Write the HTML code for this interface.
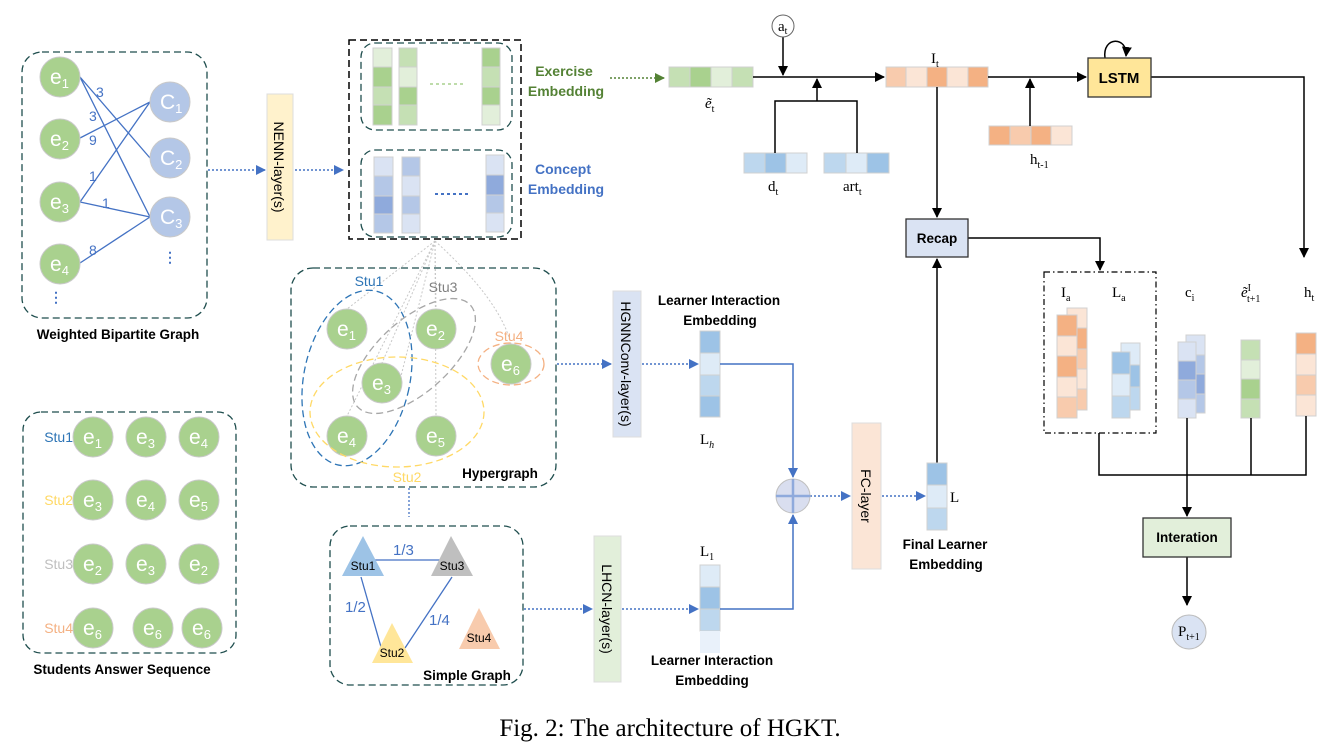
<!DOCTYPE html>
<html><head><meta charset="utf-8"><style>
html,body{margin:0;padding:0;background:#fff;}
svg{display:block;}
.s{font-family:"Liberation Sans",sans-serif;}
.b{font-family:"Liberation Sans",sans-serif;font-weight:bold;font-size:13.5px;fill:#000;}
.r{font-family:"Liberation Serif",serif;font-size:15px;fill:#000;}
.et{font-family:"Liberation Sans",sans-serif;font-size:21px;fill:#fff;}
</style></head><body>
<svg width="1340" height="753" viewBox="0 0 1340 753" xmlns="http://www.w3.org/2000/svg">
<defs>
<marker id="ab" markerWidth="10" markerHeight="10" refX="9" refY="5" orient="auto" markerUnits="userSpaceOnUse"><path d="M0,0 L10,5 L0,10 z" fill="#000"/></marker>
<marker id="abl" markerWidth="10" markerHeight="10" refX="9" refY="5" orient="auto" markerUnits="userSpaceOnUse"><path d="M0,0 L10,5 L0,10 z" fill="#4472c4"/></marker>
<marker id="agr" markerWidth="10" markerHeight="10" refX="9" refY="5" orient="auto" markerUnits="userSpaceOnUse"><path d="M0,0 L10,5 L0,10 z" fill="#548235"/></marker>
</defs>

<!-- Weighted bipartite graph -->
<rect x="22" y="52" width="185" height="266" rx="20" fill="none" stroke="#1f4e4e" stroke-width="1.3" stroke-dasharray="7,4"/>
<g stroke="#4472c4" stroke-width="1.3">
<line x1="80" y1="77" x2="150" y2="158"/><line x1="80" y1="77" x2="150" y2="217"/>
<line x1="80" y1="138" x2="150" y2="102"/><line x1="80" y1="202" x2="150" y2="102"/>
<line x1="80" y1="202" x2="150" y2="217"/><line x1="80" y1="263" x2="150" y2="217"/>
</g>
<g fill="#a9d18e" stroke="#c9c9c9"><circle cx="60" cy="77" r="20"/><circle cx="60" cy="139" r="20"/><circle cx="60" cy="202" r="20"/><circle cx="60" cy="264" r="20"/></g>
<g fill="#b4c7e7" stroke="#c9c9c9"><circle cx="170" cy="102" r="20"/><circle cx="170" cy="158" r="20"/><circle cx="170" cy="217" r="20"/></g>
<g class="et"><text x="50" y="84">e<tspan font-size="13" dy="4">1</tspan></text><text x="50" y="146">e<tspan font-size="13" dy="4">2</tspan></text><text x="50" y="209">e<tspan font-size="13" dy="4">3</tspan></text><text x="50" y="271">e<tspan font-size="13" dy="4">4</tspan></text>
<text x="160" y="109">C<tspan font-size="13" dy="4">1</tspan></text><text x="160" y="165">C<tspan font-size="13" dy="4">2</tspan></text><text x="160" y="224">C<tspan font-size="13" dy="4">3</tspan></text></g>
<g class="s" fill="#4472c4" font-size="14"><text x="96" y="97">3</text><text x="89" y="121">3</text><text x="89" y="145">9</text><text x="89" y="181">1</text><text x="102" y="208">1</text><text x="89" y="255">8</text>
<text x="56" y="302" font-weight="bold" text-anchor="middle">⋮</text><text x="170" y="262" font-weight="bold" text-anchor="middle">⋮</text></g>
<text class="b" x="118" y="339" text-anchor="middle">Weighted Bipartite Graph</text>

<!-- NENN -->
<line x1="208" y1="170" x2="265" y2="170" stroke="#4472c4" stroke-width="1.5" stroke-dasharray="2,2" marker-end="url(#abl)"/>
<rect x="267" y="94" width="26" height="146" fill="#fff2cc" stroke="#ddd"/>
<text class="s" font-size="14" transform="translate(274,167) rotate(90)" text-anchor="middle">NENN-layer(s)</text>
<line x1="295" y1="170" x2="343" y2="170" stroke="#4472c4" stroke-width="1.5" stroke-dasharray="2,2" marker-end="url(#abl)"/>

<!-- Embedding boxes -->
<rect x="349" y="40" width="172" height="199" fill="none" stroke="#000" stroke-width="1.5" stroke-dasharray="7,4"/>
<rect x="361" y="43" width="151" height="87" rx="14" fill="none" stroke="#1f4e4e" stroke-width="1.3" stroke-dasharray="7,4"/>
<rect x="361" y="150" width="151" height="87" rx="14" fill="none" stroke="#1f4e4e" stroke-width="1.3" stroke-dasharray="7,4"/>
<g stroke="#d0d0d0">
<rect x="373" y="48" width="19" height="19" fill="#e2efda"/><rect x="373" y="67" width="19" height="20" fill="#a9d18e"/><rect x="373" y="87" width="19" height="18" fill="#c5e0b4"/><rect x="373" y="105" width="19" height="20" fill="#a9d18e"/>
<rect x="399" y="48" width="18" height="19" fill="#c5e0b4"/><rect x="399" y="67" width="18" height="20" fill="#e2efda"/><rect x="399" y="87" width="18" height="18" fill="#a9d18e"/><rect x="399" y="105" width="18" height="20" fill="#c5e0b4"/>
<rect x="482" y="48" width="18" height="19" fill="#a9d18e"/><rect x="482" y="67" width="18" height="20" fill="#c5e0b4"/><rect x="482" y="87" width="18" height="18" fill="#a9d18e"/><rect x="482" y="105" width="18" height="20" fill="#e2efda"/>
<rect x="374" y="157" width="19" height="19" fill="#dae3f3"/><rect x="374" y="176" width="19" height="20" fill="#b4c7e7"/><rect x="374" y="196" width="19" height="18" fill="#8faadc"/><rect x="374" y="214" width="19" height="19" fill="#b4c7e7"/>
<rect x="402" y="157" width="18" height="19" fill="#b4c7e7"/><rect x="402" y="176" width="18" height="20" fill="#dae3f3"/><rect x="402" y="196" width="18" height="18" fill="#b4c7e7"/><rect x="402" y="214" width="18" height="19" fill="#dae3f3"/>
<rect x="486" y="155" width="18" height="20" fill="#dae3f3"/><rect x="486" y="175" width="18" height="20" fill="#8faadc"/><rect x="486" y="195" width="18" height="18" fill="#b4c7e7"/><rect x="486" y="213" width="18" height="19" fill="#dae3f3"/>
</g>
<line x1="430" y1="84" x2="465" y2="84" stroke="#a9d18e" stroke-width="1.5" stroke-dasharray="3,3"/>
<line x1="435" y1="194" x2="470" y2="194" stroke="#4472c4" stroke-width="2" stroke-dasharray="3,3"/>
<g class="s" font-weight="bold" font-size="14" text-anchor="middle"><text x="564" y="76" fill="#548235">Exercise</text><text x="566" y="96" fill="#548235">Embedding</text>
<text x="563" y="174" fill="#4472c4">Concept</text><text x="566" y="194" fill="#4472c4">Embedding</text></g>
<line x1="610" y1="78" x2="664" y2="78" stroke="#548235" stroke-width="1.5" stroke-dasharray="2,2" marker-end="url(#agr)"/>

<!-- top pipeline -->
<g stroke="#d0d0d0">
<rect x="669" y="67" width="21" height="20" fill="#c5e0b4"/><rect x="690" y="67" width="21" height="20" fill="#a9d18e"/><rect x="711" y="67" width="21" height="20" fill="#e2efda"/><rect x="732" y="67" width="21" height="20" fill="#c5e0b4"/>
<rect x="886" y="67" width="20" height="20" fill="#f8cbad"/><rect x="906" y="67" width="21" height="20" fill="#fbe5d6"/><rect x="927" y="67" width="20" height="20" fill="#f4b183"/><rect x="947" y="67" width="21" height="20" fill="#fbe5d6"/><rect x="968" y="67" width="20" height="20" fill="#f4b183"/>
<rect x="744" y="153" width="21" height="20" fill="#bdd7ee"/><rect x="765" y="153" width="21" height="20" fill="#9dc3e6"/><rect x="786" y="153" width="21" height="20" fill="#deebf7"/>
<rect x="824" y="153" width="22" height="20" fill="#bdd7ee"/><rect x="846" y="153" width="21" height="20" fill="#deebf7"/><rect x="867" y="153" width="22" height="20" fill="#9dc3e6"/>
<rect x="989" y="126" width="21" height="19" fill="#f4b183"/><rect x="1010" y="126" width="21" height="19" fill="#f8cbad"/><rect x="1031" y="126" width="20" height="19" fill="#f4b183"/><rect x="1051" y="126" width="21" height="19" fill="#fbe5d6"/>
</g>
<g stroke="#000" stroke-width="1.5" fill="none">
<line x1="753" y1="77" x2="884" y2="77" marker-end="url(#ab)"/>
<line x1="783" y1="37" x2="783" y2="75" marker-end="url(#ab)"/>
<polyline points="775,153 775,101 857,101 857,153"/>
<line x1="817" y1="101" x2="817" y2="79" marker-end="url(#ab)"/>
<line x1="988" y1="77" x2="1086" y2="77" marker-end="url(#ab)"/>
<line x1="1030" y1="126" x2="1030" y2="79" marker-end="url(#ab)"/>
<polyline points="1151,77 1304,77 1304,257" marker-end="url(#ab)"/>
<line x1="937" y1="87" x2="937" y2="217" marker-end="url(#ab)"/>
<polyline points="968,238 1100,238 1100,270" marker-end="url(#ab)"/>
<line x1="937" y1="463" x2="937" y2="259" marker-end="url(#ab)"/>
<path d="M1105,58 C1102,36 1128,36 1126,56" marker-end="url(#ab)"/>
</g>
<circle cx="783" cy="26" r="11" fill="#fff" stroke="#666"/>
<text class="r" x="778" y="31">a<tspan font-size="10" dy="3">t</tspan></text>
<rect x="1088" y="58" width="63" height="39" fill="#ffe699" stroke="#333" stroke-width="1.3"/>
<text class="s" x="1119" y="83" font-size="15" font-weight="bold" text-anchor="middle">LSTM</text>
<rect x="906" y="219" width="62" height="38" fill="#dae3f3" stroke="#333" stroke-width="1.3"/>
<text class="b" x="937" y="243" text-anchor="middle" font-size="13">Recap</text>
<g class="r"><text x="705" y="108"><tspan font-style="italic">ẽ</tspan><tspan font-size="10" dy="4">t</tspan></text>
<text x="931" y="63">I<tspan font-size="10" dy="4">t</tspan></text>
<text x="768" y="191">d<tspan font-size="10" dy="4">t</tspan></text>
<text x="843" y="191">art<tspan font-size="10" dy="4">t</tspan></text>
<text x="1030" y="164">h<tspan font-size="10" dy="4">t-1</tspan></text></g>

<!-- dash-dot box & vectors -->
<rect x="1044" y="272" width="112" height="161" fill="none" stroke="#000" stroke-width="1.2" stroke-dasharray="6,3,1.5,3"/>
<g class="r"><text x="1061" y="297">I<tspan font-size="10" dy="4">a</tspan></text><text x="1112" y="297">L<tspan font-size="10" dy="4">a</tspan></text>
<text x="1185" y="297">c<tspan font-size="10" dy="4">i</tspan></text>
<text x="1241" y="297"><tspan font-style="italic">ẽ</tspan><tspan font-size="10" dy="-6">I</tspan><tspan font-size="10" dx="-4" dy="11">t+1</tspan></text>
<text x="1304" y="297">h<tspan font-size="10" dy="4">t</tspan></text></g>
<g stroke="#d0d0d0">
<rect x="1067" y="308" width="20" height="20" fill="#fbe5d6"/><rect x="1067" y="328" width="20" height="21" fill="#f4b183"/><rect x="1067" y="349" width="20" height="20" fill="#f8cbad"/><rect x="1067" y="369" width="20" height="20" fill="#fbe5d6"/><rect x="1067" y="389" width="20" height="21" fill="#f8cbad"/>
<rect x="1057" y="315" width="20" height="21" fill="#f4b183"/><rect x="1057" y="336" width="20" height="20" fill="#fbe5d6"/><rect x="1057" y="356" width="20" height="21" fill="#f4b183"/><rect x="1057" y="377" width="20" height="20" fill="#fbe5d6"/><rect x="1057" y="397" width="20" height="21" fill="#f8cbad"/>
<rect x="1121" y="343" width="19" height="22" fill="#deebf7"/><rect x="1121" y="365" width="19" height="22" fill="#9dc3e6"/><rect x="1121" y="387" width="19" height="23" fill="#bdd7ee"/>
<rect x="1112" y="352" width="18" height="22" fill="#9dc3e6"/><rect x="1112" y="374" width="18" height="22" fill="#deebf7"/><rect x="1112" y="396" width="18" height="22" fill="#bdd7ee"/>
<rect x="1186" y="335" width="19" height="20" fill="#dae3f3"/><rect x="1186" y="355" width="19" height="19" fill="#b4c7e7"/><rect x="1186" y="374" width="19" height="20" fill="#8faadc"/><rect x="1186" y="394" width="19" height="19" fill="#b4c7e7"/>
<rect x="1178" y="342" width="18" height="19" fill="#dae3f3"/><rect x="1178" y="361" width="18" height="19" fill="#8faadc"/><rect x="1178" y="380" width="18" height="19" fill="#b4c7e7"/><rect x="1178" y="399" width="18" height="19" fill="#dae3f3"/>
<rect x="1241" y="340" width="19" height="20" fill="#c5e0b4"/><rect x="1241" y="360" width="19" height="19" fill="#e2efda"/><rect x="1241" y="379" width="19" height="20" fill="#a9d18e"/><rect x="1241" y="399" width="19" height="19" fill="#c5e0b4"/>
<rect x="1296" y="333" width="20" height="21" fill="#f4b183"/><rect x="1296" y="354" width="20" height="21" fill="#fbe5d6"/><rect x="1296" y="375" width="20" height="20" fill="#f8cbad"/><rect x="1296" y="395" width="20" height="21" fill="#fbe5d6"/>
</g>
<g stroke="#000" stroke-width="1.5" fill="none">
<polyline points="1099,433 1099,475 1306,475 1306,416"/>
<line x1="1187" y1="418" x2="1187" y2="475"/><line x1="1251" y1="418" x2="1251" y2="475"/>
<line x1="1187" y1="475" x2="1187" y2="516" marker-end="url(#ab)"/>
<line x1="1187" y1="557" x2="1187" y2="605" marker-end="url(#ab)"/>
</g>
<rect x="1143" y="518" width="88" height="39" fill="#e2efda" stroke="#333" stroke-width="1.3"/>
<text class="b" x="1187" y="542" text-anchor="middle" font-size="13">Interation</text>
<circle cx="1189" cy="632" r="17" fill="#dae3f3" stroke="#bbb"/>
<text class="r" x="1178" y="636">P<tspan font-size="10" dy="4">t+1</tspan></text>

<!-- Hypergraph -->
<g stroke="#c8c8c8" stroke-width="1" stroke-dasharray="2,2" fill="none">
<path d="M435,241 L347,309"/><path d="M435,241 L382,363"/><path d="M435,241 L436,309"/><path d="M435,241 L347,416"/><path d="M435,241 L436,416"/><path d="M435,241 Q500,300 511,344"/><path d="M435,241 L400,380"/>
</g>
<rect x="291" y="268" width="265" height="219" rx="22" fill="none" stroke="#1f4e4e" stroke-width="1.3" stroke-dasharray="7,4"/>
<g fill="#a9d18e" stroke="#c9c9c9"><circle cx="347" cy="329" r="20"/><circle cx="436" cy="329" r="20"/><circle cx="382" cy="383" r="20"/><circle cx="347" cy="436" r="20"/><circle cx="436" cy="436" r="20"/><circle cx="511" cy="364" r="20"/></g>
<g class="et"><text x="337" y="336">e<tspan font-size="13" dy="4">1</tspan></text><text x="426" y="336">e<tspan font-size="13" dy="4">2</tspan></text><text x="372" y="390">e<tspan font-size="13" dy="4">3</tspan></text><text x="337" y="443">e<tspan font-size="13" dy="4">4</tspan></text><text x="426" y="443">e<tspan font-size="13" dy="4">5</tspan></text><text x="501" y="371">e<tspan font-size="13" dy="4">6</tspan></text></g>
<g fill="none" stroke-width="1.3" stroke-dasharray="7,4">
<ellipse cx="357" cy="378" rx="53" ry="89" transform="rotate(12 357 378)" stroke="#2e75b6"/>
<ellipse cx="414" cy="356" rx="76" ry="36" transform="rotate(-42 414 356)" stroke="#a6a6a6"/>
<ellipse cx="397" cy="412" rx="87" ry="55" stroke="#ffd966"/>
<ellipse cx="511" cy="364" rx="33" ry="21" stroke="#f4b183"/>
</g>
<g class="s" font-size="14"><text x="369" y="286" fill="#2e75b6" text-anchor="middle">Stu1</text><text x="443" y="292" fill="#808080" text-anchor="middle">Stu3</text><text x="509" y="341" fill="#f4b183" text-anchor="middle">Stu4</text><text x="407" y="482" fill="#ffd966" text-anchor="middle">Stu2</text></g>
<text class="b" x="500" y="478" text-anchor="middle">Hypergraph</text>
<line x1="409" y1="488" x2="409" y2="517" stroke="#4472c4" stroke-width="1.3" stroke-dasharray="2,2"/>

<!-- Simple graph -->
<rect x="330" y="526" width="193" height="159" rx="20" fill="none" stroke="#1f4e4e" stroke-width="1.3" stroke-dasharray="7,4"/>
<g stroke="#4472c4" stroke-width="1.3"><line x1="375" y1="560" x2="445" y2="560"/><line x1="361" y1="577" x2="381" y2="647"/><line x1="452" y1="577" x2="405" y2="648"/></g>
<polygon points="363,536 342,576 384,576" fill="#9dc3e6"/>
<polygon points="451,536 431,576 473,576" fill="#bfbfbf"/>
<polygon points="392,623 372,663 413,663" fill="#ffe699"/>
<polygon points="479,608 459,649 500,649" fill="#f8cbad"/>
<g class="s" font-size="12" text-anchor="middle" fill="#000"><text x="363" y="570">Stu1</text><text x="452" y="570">Stu3</text><text x="392" y="657">Stu2</text><text x="479" y="642">Stu4</text></g>
<g class="s" font-size="15" fill="#4472c4"><text x="393" y="555">1/3</text><text x="345" y="612">1/2</text><text x="429" y="625">1/4</text></g>
<text class="b" x="467" y="680" text-anchor="middle">Simple Graph</text>

<!-- HGNN / LHCN branches -->
<g stroke="#4472c4" stroke-width="1.5" stroke-dasharray="2,2">
<line x1="557" y1="364" x2="611" y2="364" marker-end="url(#abl)"/><line x1="642" y1="364" x2="698" y2="364" marker-end="url(#abl)"/>
<line x1="524" y1="609" x2="592" y2="609" marker-end="url(#abl)"/><line x1="622" y1="609" x2="698" y2="609" marker-end="url(#abl)"/>
<line x1="810" y1="496" x2="850" y2="496" marker-end="url(#abl)"/><line x1="882" y1="496" x2="925" y2="496" marker-end="url(#abl)"/>
</g>
<rect x="613" y="291" width="28" height="146" fill="#dae3f3" stroke="#ddd"/>
<text class="s" font-size="14" transform="translate(621,364) rotate(90)" text-anchor="middle">HGNNConv-layer(s)</text>
<rect x="594" y="536" width="27" height="146" fill="#e2efda" stroke="#ddd"/>
<text class="s" font-size="14" transform="translate(602,609) rotate(90)" text-anchor="middle">LHCN-layer(s)</text>
<rect x="852" y="423" width="29" height="146" fill="#fbe5d6" stroke="#ddd"/>
<text class="s" font-size="14" transform="translate(861,496) rotate(90)" text-anchor="middle">FC-layer</text>
<g stroke="#d0d0d0">
<rect x="700" y="331" width="20" height="22" fill="#9dc3e6"/><rect x="700" y="353" width="20" height="22" fill="#deebf7"/><rect x="700" y="375" width="20" height="21" fill="#bdd7ee"/><rect x="700" y="396" width="20" height="21" fill="#9dc3e6"/>
<rect x="700" y="565" width="20" height="22" fill="#deebf7"/><rect x="700" y="587" width="20" height="22" fill="#9dc3e6"/><rect x="700" y="609" width="20" height="22" fill="#bdd7ee"/><rect x="700" y="631" width="20" height="22" fill="#e9f1fa" stroke="none"/>
<rect x="927" y="463" width="20" height="22" fill="#9dc3e6"/><rect x="927" y="485" width="20" height="23" fill="#deebf7"/><rect x="927" y="508" width="20" height="22" fill="#bdd7ee"/>
</g>
<g stroke="#4472c4" stroke-width="1.5" fill="none">
<polyline points="720,364 793,364 793,477" marker-end="url(#abl)"/>
<polyline points="720,609 793,609 793,515" marker-end="url(#abl)"/>
</g>
<circle cx="793" cy="496" r="17" fill="#d9deef" stroke="#c0c0c0"/>
<g stroke="#8faadc" stroke-width="2.5"><line x1="776" y1="496" x2="810" y2="496"/><line x1="793" y1="479" x2="793" y2="513"/></g>
<g class="b" text-anchor="middle"><text x="719" y="305">Learner Interaction</text><text x="720" y="325">Embedding</text>
<text x="712" y="665">Learner Interaction</text><text x="712" y="685">Embedding</text>
<text x="945" y="549">Final Learner</text><text x="946" y="569">Embedding</text></g>
<g class="r"><text x="700" y="444">L<tspan font-size="10" dy="4" font-style="italic">h</tspan></text><text x="700" y="556">L<tspan font-size="10" dy="4">1</tspan></text><text x="950" y="502">L</text></g>

<!-- Students answer sequence -->
<rect x="23" y="412" width="213" height="241" rx="18" fill="none" stroke="#1f4e4e" stroke-width="1.3" stroke-dasharray="7,4"/>
<g fill="#a9d18e" stroke="#c9c9c9">
<circle cx="93" cy="437" r="20"/><circle cx="146" cy="437" r="20"/><circle cx="199" cy="437" r="20"/>
<circle cx="93" cy="500" r="20"/><circle cx="146" cy="500" r="20"/><circle cx="199" cy="500" r="20"/>
<circle cx="93" cy="564" r="20"/><circle cx="146" cy="564" r="20"/><circle cx="199" cy="564" r="20"/>
<circle cx="93" cy="628" r="20"/><circle cx="153" cy="628" r="20"/><circle cx="202" cy="628" r="20"/>
</g>
<g class="et">
<text x="83" y="444">e<tspan font-size="13" dy="4">1</tspan></text><text x="136" y="444">e<tspan font-size="13" dy="4">3</tspan></text><text x="189" y="444">e<tspan font-size="13" dy="4">4</tspan></text>
<text x="83" y="507">e<tspan font-size="13" dy="4">3</tspan></text><text x="136" y="507">e<tspan font-size="13" dy="4">4</tspan></text><text x="189" y="507">e<tspan font-size="13" dy="4">5</tspan></text>
<text x="83" y="571">e<tspan font-size="13" dy="4">2</tspan></text><text x="136" y="571">e<tspan font-size="13" dy="4">3</tspan></text><text x="189" y="571">e<tspan font-size="13" dy="4">2</tspan></text>
<text x="83" y="635">e<tspan font-size="13" dy="4">6</tspan></text><text x="143" y="635">e<tspan font-size="13" dy="4">6</tspan></text><text x="192" y="635">e<tspan font-size="13" dy="4">6</tspan></text>
</g>
<g class="s" font-size="14" text-anchor="end"><text x="73" y="442" fill="#2e75b6">Stu1</text><text x="73" y="505" fill="#ffd966">Stu2</text><text x="73" y="569" fill="#bfbfbf">Stu3</text><text x="73" y="633" fill="#f4b183">Stu4</text></g>
<text class="b" x="122" y="674" text-anchor="middle">Students Answer Sequence</text>

<text x="670" y="736" text-anchor="middle" font-family="Liberation Serif, serif" font-size="25">Fig. 2: The architecture of HGKT.</text>
</svg>
</body></html>
